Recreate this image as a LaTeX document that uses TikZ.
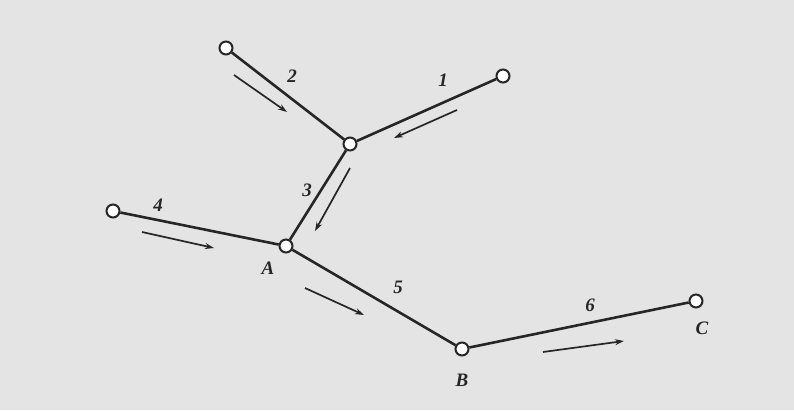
\documentclass[tikz,border=0pt]{standalone}
\usepackage{fontspec}
\setmainfont{Liberation Serif}
\usetikzlibrary{arrows.meta}
\definecolor{bg}{HTML}{E4E4E4}
\definecolor{ink}{HTML}{262626}
\tikzset{
  x=1pt,y=-1pt,
  junc/.style={circle,draw=ink,fill=white,line width=2pt,minimum size=13pt,inner sep=0pt},
  pipe/.style={draw=ink,line width=2.6pt},
  flow/.style={draw=ink,line width=1.7pt,-{Stealth[length=9pt,width=6pt]}},
  lbl/.style={font=\fontsize{19}{22}\selectfont\itshape\bfseries,text=ink,inner sep=1pt}
}
\begin{document}
\begin{tikzpicture}
\fill[bg] (0,0) rectangle (794,410);
\useasboundingbox (0,0) rectangle (794,410);
% nodes
\node[junc] (n2) at (226,48) {};
\node[junc] (n1) at (503,76) {};
\node[junc] (J) at (350,144) {};
\node[junc] (n4) at (113,211) {};
\node[junc] (A) at (286,246) {};
\node[junc] (B) at (462,349) {};
\node[junc] (C) at (696,301) {};
% pipes
\draw[pipe] (n2) -- (J);
\draw[pipe] (n1) -- (J);
\draw[pipe] (J) -- (A);
\draw[pipe] (n4) -- (A);
\draw[pipe] (A) -- (B);
\draw[pipe] (B) -- (C);
% labels
\node[lbl] (l2) at (292,76) {2};
\node[lbl] (l1) at (443,80) {1};
\node[lbl] (l3) at (307,190) {3};
\node[lbl] (l4) at (158,205) {4};
\node[lbl] (lA) at (268,268) {A};
\node[lbl] (l5) at (398,287) {5};
\node[lbl] (l6) at (590,305) {6};
\node[lbl] (lB) at (462,380) {B};
\node[lbl] (lC) at (702,328) {C};
% flow arrows
\coordinate (f2s) at (234,75);  \coordinate (f2e) at (287,112);
\coordinate (f1s) at (457,110); \coordinate (f1e) at (394,138);
\coordinate (f3s) at (350,168); \coordinate (f3e) at (315,231);
\coordinate (f4s) at (142,232); \coordinate (f4e) at (214,248);
\coordinate (f5s) at (305,288); \coordinate (f5e) at (364,315);
\coordinate (f6s) at (543,352); \coordinate (f6e) at (624,341);
\draw[flow] (f2s) -- (f2e);
\draw[flow] (f1s) -- (f1e);
\draw[flow] (f3s) -- (f3e);
\draw[flow] (f4s) -- (f4e);
\draw[flow] (f5s) -- (f5e);
\draw[flow] (f6s) -- (f6e);
\end{tikzpicture}
\end{document}
